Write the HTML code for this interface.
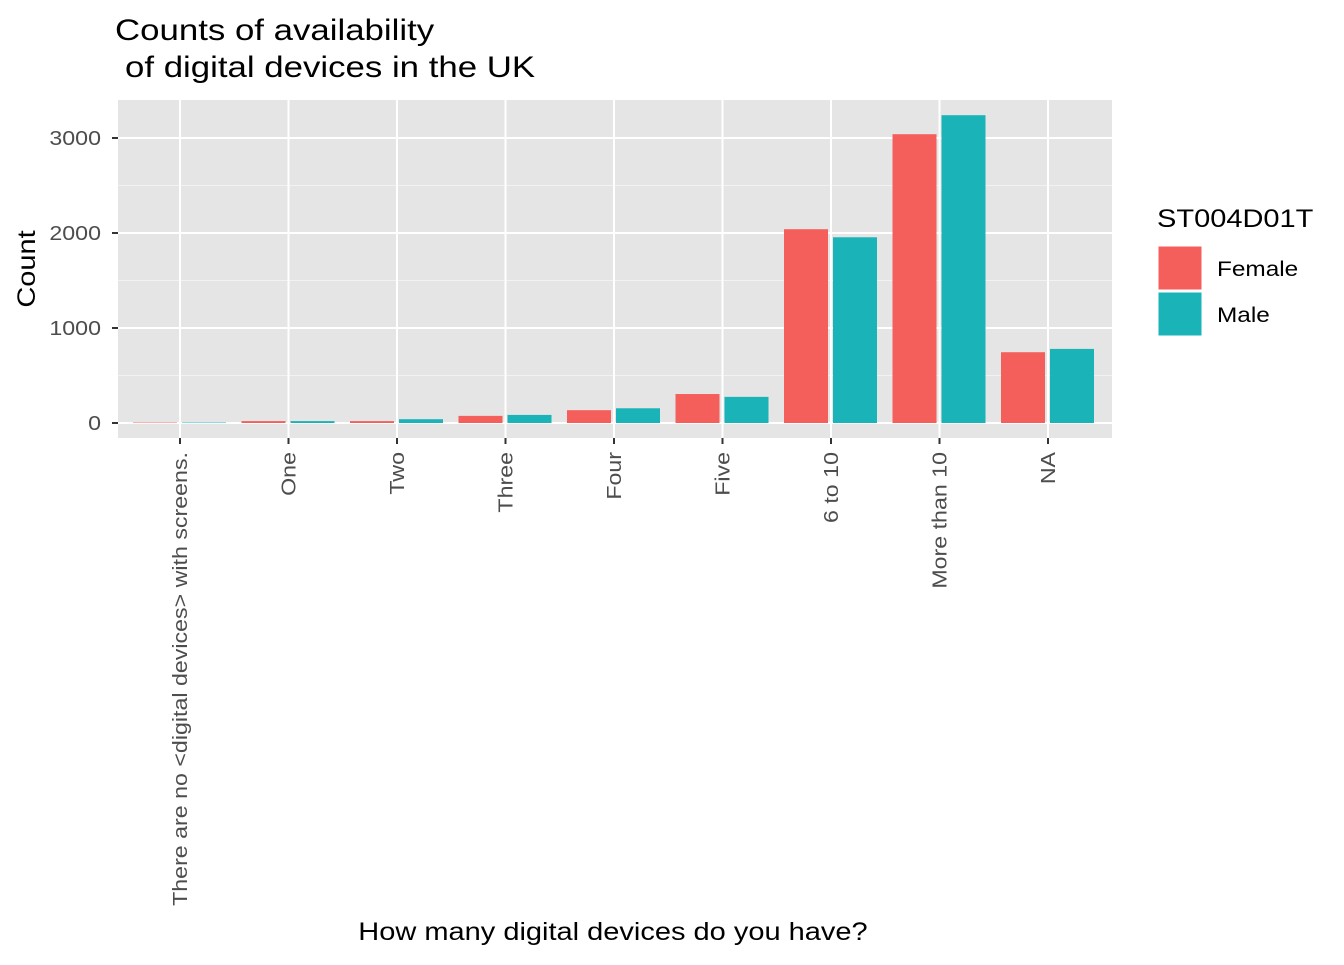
<!DOCTYPE html>
<html><head><meta charset="utf-8"><style>
body{margin:0;background:#fff;font-family:"Liberation Sans",Arial,sans-serif}
</style></head><body>
<svg id="svg" width="1344" height="960" xmlns="http://www.w3.org/2000/svg" font-family="Liberation Sans, Arial, sans-serif">
<text class="s" x="115" y="40" font-size="30">Counts of availability</text>
<text class="s" x="125" y="77" font-size="30">of digital devices in the UK</text>
<rect x="118" y="100" width="994" height="338" fill="#e5e5e5"/>
<g id="grid"></g>
<g id="bars"></g>
<g id="axes"></g>
<text class="s" x="35" y="269" font-size="25" transform="rotate(-90 35 269)" text-anchor="middle">Count</text>
<text class="s" x="613" y="940" font-size="25" text-anchor="middle">How many digital devices do you have?</text>
<g>
<text class="s" x="1157" y="227" font-size="25">ST004D01T</text>
<rect x="1158" y="246" width="44" height="44" fill="#f45f5c" stroke="#fff"/>
<text class="s" x="1217" y="276" font-size="21">Female</text>
<rect x="1158" y="292" width="44" height="44" fill="#19b3b8" stroke="#fff"/>
<text class="s" x="1217" y="322" font-size="21">Male</text>
</g>
</svg>
<script>
const categories=["There are no <digital devices> with screens.","One","Two","Three","Four","Five","6 to 10","More than 10","NA"];
const female=[5,20,20,75,135,305,2040,3040,745];
const male=[5,20,40,85,155,275,1955,3240,780];
const yTicks=[0,1000,2000,3000];
const NS="http://www.w3.org/2000/svg";
const y=v=>423-v*0.095;
const x=i=>180+i*108.5;
function mk(tag,attrs,parent,text){const e=document.createElementNS(NS,tag);for(const k in attrs)e.setAttribute(k,attrs[k]);if(text!==undefined)e.textContent=text;document.getElementById(parent).appendChild(e);return e;}
const minors=[500,1500,2500];
minors.forEach(v=>{const l=mk('line',{x1:118,x2:1112,y1:y(v),y2:y(v),stroke:'#f2f2f2','stroke-width':1},'grid');

});
yTicks.forEach(v=>{const l=mk('line',{x1:118,x2:1112,y1:y(v),y2:y(v),stroke:'#fff','stroke-width':2},'grid');


mk('line',{x1:112,x2:118,y1:y(v),y2:y(v),stroke:'#333','stroke-width':2},'axes');
const t=mk('text',{x:101,y:y(v)+7,'font-size':20,'text-anchor':'end',fill:'#4d4d4d',class:'s'},'axes',v);

});
categories.forEach((c,i)=>{const l=mk('line',{x1:x(i),x2:x(i),y1:100,y2:438,stroke:'#fff','stroke-width':2},'grid');


mk('line',{x1:x(i),x2:x(i),y1:438,y2:444,stroke:'#333','stroke-width':2},'axes');
const t=mk('text',{x:0,y:0,'font-size':20,'text-anchor':'end',fill:'#4d4d4d',class:'s',transform:`translate(${x(i)+7},452) rotate(-90)`},'axes',c);


const f=mk('rect',{x:x(i)-47,y:y(female[i]),width:44,height:Math.max(0.5,y(0)-y(female[i])),fill:'#f45f5c'},'bars');


const m=mk('rect',{x:x(i)+2,y:y(male[i]),width:44,height:Math.max(0.5,y(0)-y(male[i])),fill:'#19b3b8'},'bars');

});
document.querySelectorAll('text.s').forEach(t=>{const w=t.getComputedTextLength();t.setAttribute('textLength',(w*1.16).toFixed(1));t.setAttribute('lengthAdjust','spacingAndGlyphs');});
</script>
</body></html>
